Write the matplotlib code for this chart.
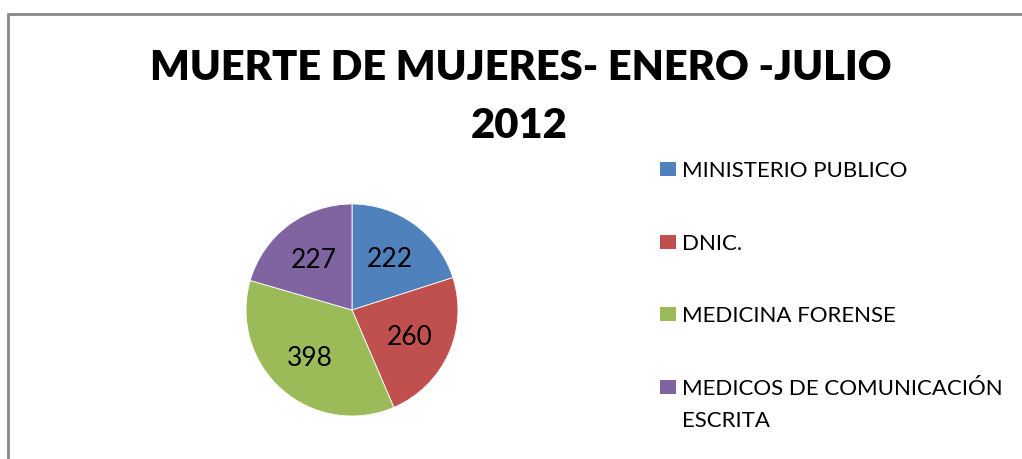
import matplotlib
matplotlib.use("Agg")
import matplotlib.pyplot as plt
from matplotlib.patches import Rectangle

title_lines = ["MUERTE DE MUJERES- ENERO -JULIO", "2012"]
categories = ["MINISTERIO PUBLICO", "DNIC.", "MEDICINA FORENSE",
              "MEDICOS DE COMUNICACIÓN\nESCRITA"]
values = [222, 260, 398, 227]
colors = ["#4F81BD", "#C0504D", "#9BBB59", "#8064A2"]

W, H = 1022, 460
fig = plt.figure(figsize=(W / 100, H / 100), dpi=100)
fig.patch.set_facecolor("white")

def fx(px):
    return px / W

def fy(py):
    return 1 - py / H

# chart border (right & bottom fall outside the image)
fig.patches.append(Rectangle((fx(8), fy(H + 10)), fx(W + 20), (H + 10 - 15) / H,
                             transform=fig.transFigure, fill=False,
                             edgecolor="#898989", linewidth=2))

# title
fig.text(fx(521), fy(80), title_lines[0], ha="center", va="baseline",
         fontsize=30, fontweight="heavy", family="Lato", color="black")
fig.text(fx(519), fy(138), title_lines[1], ha="center", va="baseline",
         fontsize=30, fontweight="heavy", family="Lato", color="black")

# pie
cx, cy, r = 352, 311, 106
ax = fig.add_axes([fx(cx - r), fy(cy + r), 2 * r / W, 2 * r / H])
wedges, texts, autotexts = ax.pie(
    values, colors=colors, startangle=90, counterclock=False,
    autopct=lambda p: f"{round(p * sum(values) / 100):d}",
    pctdistance=0.6, radius=1,
    wedgeprops=dict(edgecolor="white", linewidth=0.6))
for t in autotexts:
    t.set_fontsize(19)
    t.set_family("Lato")
    t.set_color("black")
ax.set_xlim(-1, 1)
ax.set_ylim(-1, 1)
ax.axis("off")

# legend
row_baselines = [177, 250, 322, 395]
line_gap = 32
for cat, col, base in zip(categories, colors, row_baselines):
    fig.patches.append(Rectangle((fx(660), fy(base)), fx(16), 14 / H,
                                 transform=fig.transFigure,
                                 facecolor=col, edgecolor="none"))
    for i, line in enumerate(cat.split("\n")):
        fig.text(fx(682), fy(base + i * line_gap), line, ha="left",
                 va="baseline", fontsize=16, family="Lato", color="black")

fig.savefig("out.png", dpi=100)
